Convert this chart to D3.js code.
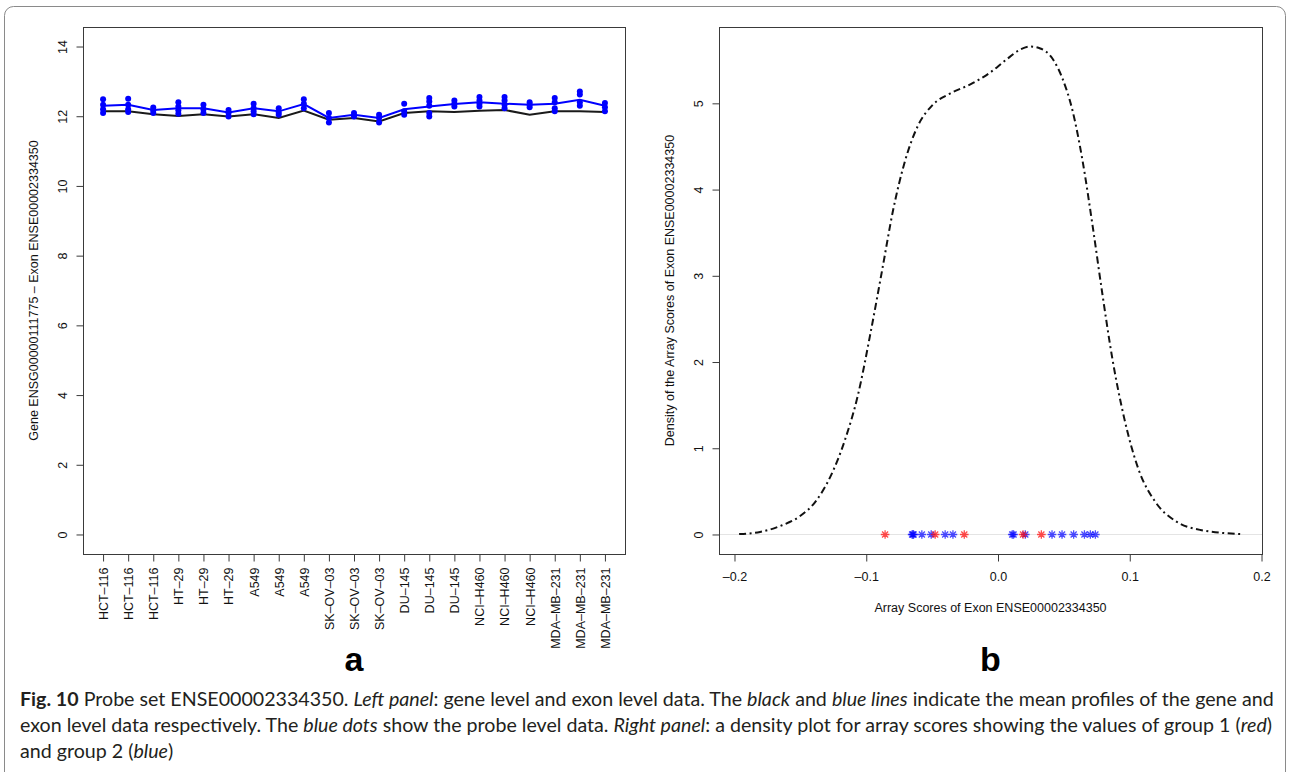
<!DOCTYPE html>
<html>
<head>
<meta charset="utf-8">
<script src="https://cdn.jsdelivr.net/npm/d3@7"></script>
<style>
  html, body { margin: 0; padding: 0; background: #fff; }
  svg { display: block; }
</style>
</head>
<body>
<svg id="fig" width="1290" height="772"></svg>
<script>
// ---------- Panel a: gene / exon / probe level expression per array ----------
const arrays = [
  "HCT–116", "HCT–116", "HCT–116", "HT–29", "HT–29", "HT–29",
  "A549", "A549", "A549", "SK–OV–03", "SK–OV–03", "SK–OV–03",
  "DU–145", "DU–145", "DU–145", "NCI–H460", "NCI–H460", "NCI–H460",
  "MDA–MB–231", "MDA–MB–231", "MDA–MB–231"
];
// probe level values (blue dots), one list per array
const probeLevel = [
  [12.49, 12.33, 12.20, 12.09],
  [12.50, 12.33, 12.20, 12.12],
  [12.25, 12.17, 12.09],
  [12.40, 12.28, 12.17, 12.07],
  [12.33, 12.20, 12.09],
  [12.18, 12.09, 11.99],
  [12.36, 12.23, 12.14, 12.06],
  [12.23, 12.11, 12.04],
  [12.49, 12.36, 12.23],
  [12.09, 11.95, 11.82],
  [12.09, 11.99],
  [12.04, 11.95, 11.82],
  [12.36, 12.14, 12.04],
  [12.52, 12.42, 12.30, 12.09, 11.99],
  [12.45, 12.36, 12.28],
  [12.55, 12.45, 12.36, 12.28],
  [12.55, 12.45, 12.33, 12.23],
  [12.40, 12.33, 12.26],
  [12.52, 12.40, 12.23, 12.14],
  [12.71, 12.62, 12.40, 12.30],
  [12.38, 12.26, 12.14]
];
// exon level mean profile (blue line)
const exonMean = [12.30, 12.33, 12.18, 12.23, 12.23, 12.11, 12.23, 12.14, 12.35, 11.95, 12.04,
                  11.95, 12.20, 12.28, 12.35, 12.40, 12.36, 12.33, 12.36, 12.47, 12.30];
// gene level mean profile (black line)
const geneMean = [12.14, 12.14, 12.06, 12.01, 12.06, 11.99, 12.06, 11.95, 12.16, 11.90, 11.95,
                  11.85, 12.09, 12.14, 12.12, 12.16, 12.18, 12.04, 12.14, 12.14, 12.12];
const yTicksA = [0, 2, 4, 6, 8, 10, 12, 14];

// ---------- Panel b: density of array scores ----------
const densityScore = [-0.1965, -0.1806, -0.1654, -0.1502, -0.1388, -0.1274, -0.1160, -0.1062,
  -0.0970, -0.0879, -0.0796, -0.0704, -0.0606, -0.0499, -0.0362, -0.0210, -0.0059, 0.0055,
  0.0169, 0.0245, 0.0321, 0.0413, 0.0489, 0.0565, 0.0641, 0.0717, 0.0793, 0.0869, 0.0960,
  0.1066, 0.1195, 0.1347, 0.1537, 0.1851];
const densityValue = [0.005, 0.029, 0.098, 0.214, 0.376, 0.665, 1.104, 1.624, 2.318, 3.069,
  3.763, 4.341, 4.746, 4.977, 5.116, 5.220, 5.358, 5.497, 5.624, 5.659, 5.636, 5.520, 5.289,
  4.919, 4.341, 3.590, 2.780, 2.029, 1.335, 0.757, 0.376, 0.156, 0.052, 0.004];
const group1Scores = [-0.0857, -0.0477, -0.0256, 0.0190, 0.0329];
const group2Scores = [-0.0652, -0.0646, -0.0641, -0.0578, -0.0507, -0.0401, -0.0342, 0.0108,
  0.0118, 0.0207, 0.0410, 0.0486, 0.0574, 0.0656, 0.0701, 0.0739];
const xTicksB = [-0.2, -0.1, 0.0, 0.1, 0.2];
const yTicksB = [0, 1, 2, 3, 4, 5];

// ---------- caption ----------
const captionLines = [
  [["Fig. 10", "b"], [" Probe set ENSE00002334350. ", ""], ["Left panel", "i"],
   [": gene level and exon level data. The ", ""], ["black", "i"], [" and ", ""],
   ["blue lines", "i"], [" indicate the mean profiles of the gene and", ""]],
  [["exon level data respectively. The ", ""], ["blue dots", "i"],
   [" show the probe level data. ", ""], ["Right panel", "i"],
   [": a density plot for array scores showing the values of group 1 (", ""], ["red", "i"], [")", ""]],
  [["and group 2 (", ""], ["blue", "i"], [")", ""]]
];

// ---------- drawing ----------
const svg = d3.select("#fig");
const ink = "#3a3a3a";
const plotFont = "'Liberation Sans', Arial, Helvetica, sans-serif";
const fs = 12.5;

// R-style 4% axis padding
const pad4 = ([lo, hi]) => { const e = (hi - lo) * 0.04; return [lo - e, hi + e]; };

// outer figure frame
svg.append("rect")
  .attr("x", 4.5).attr("y", 6.5).attr("width", 1281).attr("height", 820).attr("rx", 9)
  .attr("fill", "none").attr("stroke", "#8a8a8a").attr("stroke-width", 1);

function styleTicks(g) {
  g.select(".domain").remove();
  g.selectAll(".tick line").attr("stroke", ink).attr("stroke-width", 1);
  g.selectAll(".tick text").attr("fill", "#111")
    .style("font-family", plotFont).style("font-size", fs + "px");
}

function rotatedLabel(x, y, text) {
  svg.append("text")
    .attr("transform", `translate(${x},${y}) rotate(-90)`)
    .attr("text-anchor", "middle")
    .style("font-family", plotFont).style("font-size", fs + "px").attr("fill", "#111")
    .text(text);
}

// ----- panel a -----
const A = { left: 83, right: 625, top: 27, bottom: 554 };
const xA = d3.scaleLinear().domain(pad4([1, arrays.length])).range([A.left, A.right]);
const yA = d3.scaleLinear().domain(pad4([0, 14])).range([A.bottom, A.top]);

svg.append("rect")
  .attr("x", A.left + 0.5).attr("y", A.top + 0.5)
  .attr("width", A.right - A.left).attr("height", A.bottom - A.top)
  .attr("fill", "none").attr("stroke", ink).attr("stroke-width", 1);

const gyA = svg.append("g").attr("transform", `translate(${A.left + 0.5},0)`)
  .call(d3.axisLeft(yA).tickValues(yTicksA).tickSize(7).tickFormat(d3.format("d")));
styleTicks(gyA);
gyA.selectAll(".tick text")
  .attr("transform", "rotate(-90)").attr("x", 0).attr("y", -16.5).attr("dy", null)
  .attr("text-anchor", "middle");

const gxA = svg.append("g").attr("transform", `translate(0,${A.bottom + 0.5})`)
  .call(d3.axisBottom(xA).tickValues(d3.range(1, arrays.length + 1)).tickSize(7)
    .tickFormat(i => arrays[i - 1]));
styleTicks(gxA);
gxA.selectAll(".tick text")
  .attr("transform", "rotate(-90)").attr("x", -13).attr("y", 4.4).attr("dy", null)
  .attr("text-anchor", "end");

rotatedLabel(37.5, (A.top + A.bottom) / 2, "Gene ENSG00000111775 – Exon ENSE00002334350");

const lineA = d3.line().x((d, i) => xA(i + 1)).y(d => yA(d));
svg.append("path").datum(geneMean).attr("d", lineA)
  .attr("fill", "none").attr("stroke", "#1a1a1a").attr("stroke-width", 2);
svg.append("path").datum(exonMean).attr("d", lineA)
  .attr("fill", "none").attr("stroke", "#0000ff").attr("stroke-width", 2);

const dots = probeLevel.flatMap((vals, i) => vals.map(v => ({ i, v })));
svg.append("g").selectAll("circle").data(dots).join("circle")
  .attr("cx", d => xA(d.i + 1)).attr("cy", d => yA(d.v)).attr("r", 3)
  .attr("fill", "#0000ff");

svg.append("text")
  .attr("x", (A.left + A.right) / 2).attr("y", 671)
  .attr("text-anchor", "middle")
  .style("font-family", plotFont).style("font-size", "34px").style("font-weight", "bold")
  .text("a");

// ----- panel b -----
const B = { left: 719, right: 1262, top: 27, bottom: 554 };
const xB = d3.scaleLinear()
  .domain(pad4([densityScore[0], densityScore[densityScore.length - 1]]))
  .range([B.left, B.right]);
const yB = d3.scaleLinear().domain(pad4([0, d3.max(densityValue)])).range([B.bottom, B.top]);

svg.append("rect")
  .attr("x", B.left + 0.5).attr("y", B.top + 0.5)
  .attr("width", B.right - B.left).attr("height", B.bottom - B.top)
  .attr("fill", "none").attr("stroke", ink).attr("stroke-width", 1);

const gyB = svg.append("g").attr("transform", `translate(${B.left + 0.5},0)`)
  .call(d3.axisLeft(yB).tickValues(yTicksB).tickSize(7).tickFormat(d3.format("d")));
styleTicks(gyB);
gyB.selectAll(".tick text")
  .attr("transform", "rotate(-90)").attr("x", 0).attr("y", -16.5).attr("dy", null)
  .attr("text-anchor", "middle");

const gxB = svg.append("g").attr("transform", `translate(0,${B.bottom + 0.5})`)
  .call(d3.axisBottom(xB).tickValues(xTicksB).tickSize(7)
    .tickFormat(d => d3.format(".1f")(d).replace("−", "–").replace("-", "–")));
styleTicks(gxB);
gxB.selectAll(".tick text").attr("y", 18).attr("dy", "0.71em");

rotatedLabel(673.5, (B.top + B.bottom) / 2, "Density of the Array Scores of Exon ENSE00002334350");
svg.append("text")
  .attr("x", (B.left + B.right) / 2).attr("y", 611.5).attr("text-anchor", "middle")
  .style("font-family", plotFont).style("font-size", fs + "px").attr("fill", "#111")
  .text("Array Scores of Exon ENSE00002334350");

// zero line of the density plot
svg.append("line")
  .attr("x1", B.left + 1).attr("x2", B.right)
  .attr("y1", yB(0)).attr("y2", yB(0))
  .attr("stroke", "#e4e4e4").attr("stroke-width", 1);

// density curve, dot-dash
const lineB = d3.line().x((d, i) => xB(densityScore[i])).y(d => yB(d)).curve(d3.curveMonotoneX);
svg.append("path").datum(densityValue).attr("d", lineB)
  .attr("fill", "none").attr("stroke", "#111").attr("stroke-width", 2)
  .attr("stroke-dasharray", "7,3.5,2,3.5");

// asterisk markers for the two groups
const star = (r) => {
  const a = r * Math.SQRT1_2;
  return `M${-r},0L${r},0M0,${-r}L0,${r}M${-a},${-a}L${a},${a}M${-a},${a}L${a},${-a}`;
};
function drawStars(values, color) {
  svg.append("g").selectAll("path").data(values).join("path")
    .attr("transform", d => `translate(${xB(d)},${yB(0)})`)
    .attr("d", star(4.3))
    .attr("fill", "none").attr("stroke", color).attr("stroke-width", 1.3)
    .attr("stroke-opacity", 0.7);
}
drawStars(group2Scores, "#0000ff");
drawStars(group1Scores, "#ff0000");

svg.append("text")
  .attr("x", (B.left + B.right) / 2).attr("y", 671)
  .attr("text-anchor", "middle")
  .style("font-family", plotFont).style("font-size", "34px").style("font-weight", "bold")
  .text("b");

// ----- caption -----
const capFont = "Lato, 'Open Sans', sans-serif";
const capBase = [706, 732, 758];
const capNodes = captionLines.map((segs, li) => {
  const t = svg.append("text").attr("x", 20).attr("y", capBase[li])
    .style("font-family", capFont).style("font-size", "17px").attr("fill", "#231f20");
  segs.forEach(([s, f]) => {
    const ts = t.append("tspan").text(s);
    if (f === "b") ts.style("font-weight", "bold");
    if (f === "i") ts.style("font-style", "italic");
  });
  return t;
});
// size the caption so the first line fills the text column
const w0 = capNodes[0].node().getComputedTextLength();
const capSize = 17 * 1255 / w0;
capNodes.forEach(t => t.style("font-size", capSize + "px"));
</script>
</body>
</html>
